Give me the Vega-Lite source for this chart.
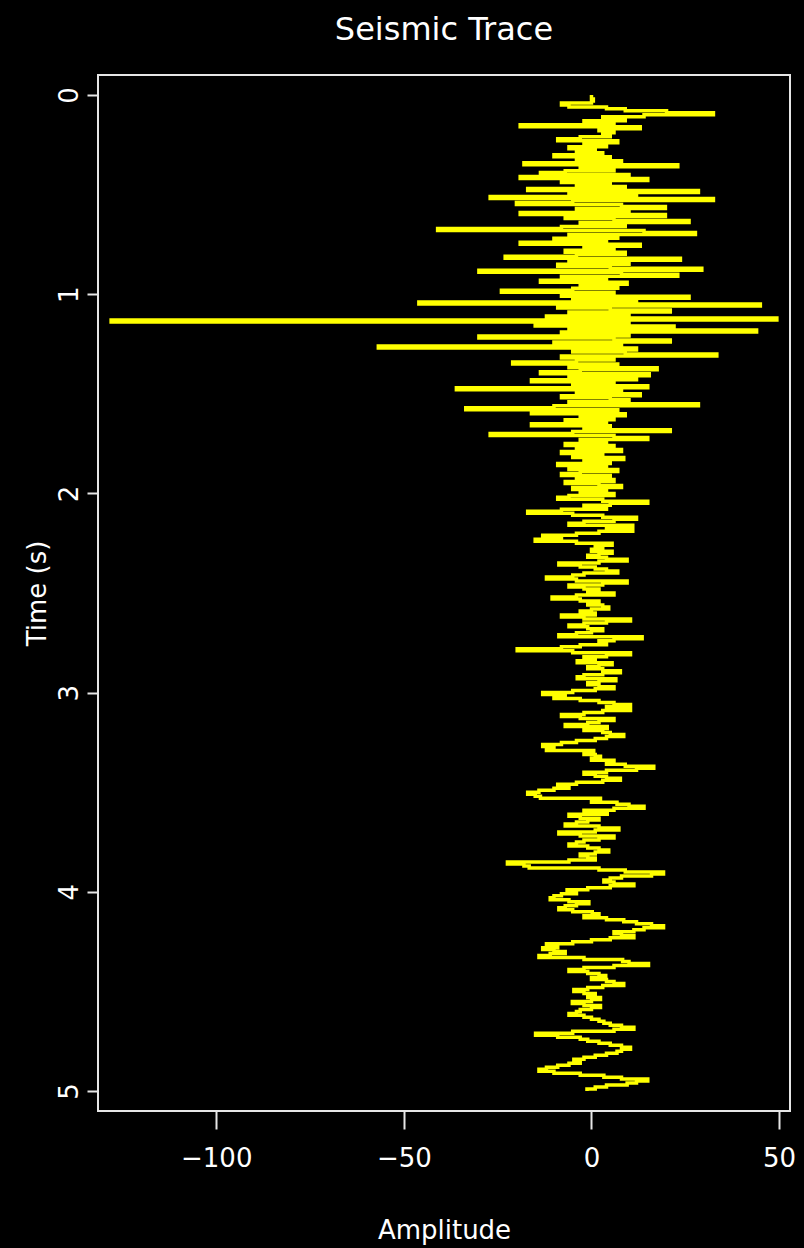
{
  "$schema": "https://vega.github.io/schema/vega-lite/v6.json",
  "width": 692,
  "height": 1036,
  "autosize": {"type": "none"},
  "padding": {"left": 98, "top": 75, "right": 14, "bottom": 137},
  "background": "#000000",
  "title": {"text": "Seismic Trace", "anchor": "middle", "frame": "group", "font": "DejaVu Sans", "fontSize": 32, "fontWeight": "normal", "color": "#ffffff", "baseline": "alphabetic", "offset": 3},
  "config": {
    "view": {"stroke": "#e6e6e6", "strokeWidth": 2, "fill": "#000000"},
    "axis": {"grid": false, "domain": false, "tickColor": "#e6e6e6", "tickWidth": 2, "labelColor": "#ffffff", "titleColor": "#ffffff", "labelFont": "DejaVu Sans", "titleFont": "DejaVu Sans", "labelFontSize": 26, "titleFontSize": 26, "titleFontWeight": "normal", "labelFlush": false, "labelOverlap": false}
  },
  "data": {"values": [
{"t":0.00,"a":0},{"t":0.01,"a":0},{"t":0.02,"a":0},{"t":0.03,"a":0.5},{"t":0.04,"a":0},{"t":0.05,"a":-8},{"t":0.06,"a":-6},{"t":0.07,"a":4},{"t":0.08,"a":9},{"t":0.09,"a":20},
{"t":0.10,"a":32.5},{"t":0.11,"a":14},{"t":0.12,"a":3},{"t":0.13,"a":9},{"t":0.14,"a":-2},{"t":0.15,"a":6},{"t":0.16,"a":-19},{"t":0.17,"a":13},{"t":0.18,"a":2},{"t":0.19,"a":6},
{"t":0.20,"a":3},{"t":0.21,"a":5},{"t":0.22,"a":-3},{"t":0.23,"a":-9},{"t":0.24,"a":7},{"t":0.25,"a":-2},{"t":0.26,"a":4},{"t":0.27,"a":-6},{"t":0.28,"a":1},{"t":0.29,"a":-4},
{"t":0.30,"a":3},{"t":0.31,"a":-10},{"t":0.32,"a":5},{"t":0.33,"a":-4},{"t":0.34,"a":8},{"t":0.35,"a":-18},{"t":0.36,"a":23},{"t":0.37,"a":-3},{"t":0.38,"a":6},{"t":0.39,"a":-7},
{"t":0.40,"a":-13.6},{"t":0.41,"a":10},{"t":0.42,"a":-19},{"t":0.43,"a":15},{"t":0.44,"a":-8},{"t":0.45,"a":5},{"t":0.46,"a":-4},{"t":0.47,"a":9},{"t":0.48,"a":-17},{"t":0.49,"a":28.5},
{"t":0.50,"a":-6},{"t":0.51,"a":12},{"t":0.52,"a":-27},{"t":0.53,"a":32.5},{"t":0.54,"a":-5},{"t":0.55,"a":-20},{"t":0.56,"a":8},{"t":0.57,"a":19.7},{"t":0.58,"a":-4},{"t":0.59,"a":10},
{"t":0.60,"a":-19},{"t":0.61,"a":19.7},{"t":0.62,"a":-7},{"t":0.63,"a":6},{"t":0.64,"a":26},{"t":0.65,"a":-3},{"t":0.66,"a":9},{"t":0.67,"a":-8},{"t":0.68,"a":-41},{"t":0.69,"a":14},
{"t":0.70,"a":27.7},{"t":0.71,"a":-6},{"t":0.72,"a":7},{"t":0.73,"a":-10},{"t":0.74,"a":4},{"t":0.75,"a":-19},{"t":0.76,"a":13},{"t":0.77,"a":-2},{"t":0.78,"a":6},{"t":0.79,"a":-7},
{"t":0.80,"a":9},{"t":0.81,"a":-4},{"t":0.82,"a":-23},{"t":0.83,"a":23.7},{"t":0.84,"a":-6},{"t":0.85,"a":10},{"t":0.86,"a":-9},{"t":0.87,"a":5},{"t":0.88,"a":29.4},{"t":0.89,"a":-30},
{"t":0.90,"a":8},{"t":0.91,"a":23},{"t":0.92,"a":-8},{"t":0.93,"a":4},{"t":0.94,"a":-13.6},{"t":0.95,"a":9.5},{"t":0.96,"a":-3},{"t":0.97,"a":7},{"t":0.98,"a":-5},{"t":0.99,"a":-24},
{"t":1.00,"a":6},{"t":1.01,"a":-8},{"t":1.02,"a":26},{"t":1.03,"a":-5},{"t":1.04,"a":12},{"t":1.05,"a":-46},{"t":1.06,"a":45},{"t":1.07,"a":-9},{"t":1.08,"a":5},{"t":1.09,"a":21},
{"t":1.10,"a":-6},{"t":1.11,"a":10},{"t":1.12,"a":-12},{"t":1.13,"a":49.4},{"t":1.14,"a":-128},{"t":1.15,"a":10},{"t":1.16,"a":-15},{"t":1.17,"a":22},{"t":1.18,"a":-6},{"t":1.19,"a":44},
{"t":1.20,"a":-8},{"t":1.21,"a":10},{"t":1.22,"a":-30},{"t":1.23,"a":6},{"t":1.24,"a":21},{"t":1.25,"a":-10},{"t":1.26,"a":8},{"t":1.27,"a":-56.8},{"t":1.28,"a":12},{"t":1.29,"a":-5},
{"t":1.30,"a":9},{"t":1.31,"a":33.4},{"t":1.32,"a":-8},{"t":1.33,"a":6},{"t":1.34,"a":-4},{"t":1.35,"a":-21},{"t":1.36,"a":7},{"t":1.37,"a":-6},{"t":1.38,"a":17.5},{"t":1.39,"a":-3},
{"t":1.40,"a":-13.6},{"t":1.41,"a":15.4},{"t":1.42,"a":-6},{"t":1.43,"a":12},{"t":1.44,"a":-16},{"t":1.45,"a":6},{"t":1.46,"a":-5},{"t":1.47,"a":15},{"t":1.48,"a":-36},{"t":1.49,"a":8},
{"t":1.50,"a":-4},{"t":1.51,"a":13},{"t":1.52,"a":-8},{"t":1.53,"a":5},{"t":1.54,"a":10},{"t":1.55,"a":-6},{"t":1.56,"a":28.5},{"t":1.57,"a":-10},{"t":1.58,"a":-33.5},{"t":1.59,"a":7},
{"t":1.60,"a":-16},{"t":1.61,"a":9},{"t":1.62,"a":-3},{"t":1.63,"a":6},{"t":1.64,"a":-7},{"t":1.65,"a":4},{"t":1.66,"a":-16},{"t":1.67,"a":5},{"t":1.68,"a":-2},{"t":1.69,"a":21},
{"t":1.70,"a":-5},{"t":1.71,"a":-27},{"t":1.72,"a":6},{"t":1.73,"a":15},{"t":1.74,"a":-3},{"t":1.75,"a":4},{"t":1.76,"a":-7},{"t":1.77,"a":6},{"t":1.78,"a":-4},{"t":1.79,"a":8},
{"t":1.80,"a":-8},{"t":1.81,"a":3},{"t":1.82,"a":-5},{"t":1.83,"a":8.6},{"t":1.84,"a":-2},{"t":1.85,"a":5},{"t":1.86,"a":-9},{"t":1.87,"a":4},{"t":1.88,"a":-6},{"t":1.89,"a":7},
{"t":1.90,"a":-3},{"t":1.91,"a":-8},{"t":1.92,"a":5},{"t":1.93,"a":-4},{"t":1.94,"a":6},{"t":1.95,"a":-7},{"t":1.96,"a":2},{"t":1.97,"a":8},{"t":1.98,"a":-5},{"t":1.99,"a":4},
{"t":2.00,"a":-3},{"t":2.01,"a":6},{"t":2.02,"a":-6},{"t":2.03,"a":-9},{"t":2.04,"a":3},{"t":2.05,"a":15},{"t":2.06,"a":5},{"t":2.07,"a":-2},{"t":2.08,"a":4},{"t":2.09,"a":-8},
{"t":2.10,"a":-17},{"t":2.11,"a":-5},{"t":2.12,"a":3},{"t":2.13,"a":12},{"t":2.14,"a":6},{"t":2.15,"a":-2},{"t":2.16,"a":-6},{"t":2.17,"a":11},{"t":2.18,"a":4},{"t":2.19,"a":11},
{"t":2.20,"a":2},{"t":2.21,"a":-4},{"t":2.22,"a":-13},{"t":2.23,"a":-8},{"t":2.24,"a":-15},{"t":2.25,"a":-4},{"t":2.26,"a":5.5},{"t":2.27,"a":1},{"t":2.28,"a":3},{"t":2.29,"a":0},
{"t":2.30,"a":5.5},{"t":2.31,"a":2},{"t":2.32,"a":-1},{"t":2.33,"a":4},{"t":2.34,"a":9.5},{"t":2.35,"a":2},{"t":2.36,"a":-8.7},{"t":2.37,"a":-3},{"t":2.38,"a":1},{"t":2.39,"a":4},
{"t":2.40,"a":7},{"t":2.41,"a":-2},{"t":2.42,"a":-5},{"t":2.43,"a":-12},{"t":2.44,"a":-4},{"t":2.45,"a":9.5},{"t":2.46,"a":3},{"t":2.47,"a":-6},{"t":2.48,"a":-2},{"t":2.49,"a":2},
{"t":2.50,"a":-1},{"t":2.51,"a":6},{"t":2.52,"a":-4},{"t":2.53,"a":-10.5},{"t":2.54,"a":-3},{"t":2.55,"a":2},{"t":2.56,"a":-1},{"t":2.57,"a":3},{"t":2.58,"a":4.6},{"t":2.59,"a":0},
{"t":2.60,"a":-3},{"t":2.61,"a":1},{"t":2.62,"a":-8},{"t":2.63,"a":-2},{"t":2.64,"a":10.4},{"t":2.65,"a":4},{"t":2.66,"a":-2},{"t":2.67,"a":-6},{"t":2.68,"a":-1},{"t":2.69,"a":3},
{"t":2.70,"a":0},{"t":2.71,"a":-4},{"t":2.72,"a":-8.7},{"t":2.73,"a":13.5},{"t":2.74,"a":6},{"t":2.75,"a":2},{"t":2.76,"a":4},{"t":2.77,"a":-3},{"t":2.78,"a":-8},{"t":2.79,"a":-19.8},
{"t":2.80,"a":-5},{"t":2.81,"a":10.4},{"t":2.82,"a":4},{"t":2.83,"a":-2},{"t":2.84,"a":1},{"t":2.85,"a":-3.8},{"t":2.86,"a":5.5},{"t":2.87,"a":2},{"t":2.88,"a":-1},{"t":2.89,"a":3},
{"t":2.90,"a":7.7},{"t":2.91,"a":3},{"t":2.92,"a":-2},{"t":2.93,"a":-3.8},{"t":2.94,"a":6.5},{"t":2.95,"a":2},{"t":2.96,"a":-1},{"t":2.97,"a":2},{"t":2.98,"a":6},{"t":2.99,"a":1},
{"t":3.00,"a":-5},{"t":3.01,"a":-13},{"t":3.02,"a":-7},{"t":3.03,"a":-10},{"t":3.04,"a":-3},{"t":3.05,"a":2},{"t":3.06,"a":6},{"t":3.07,"a":10.4},{"t":3.08,"a":4},{"t":3.09,"a":10.4},
{"t":3.10,"a":3},{"t":3.11,"a":-2},{"t":3.12,"a":-8},{"t":3.13,"a":-3},{"t":3.14,"a":6},{"t":3.15,"a":2},{"t":3.16,"a":-1},{"t":3.17,"a":-7},{"t":3.18,"a":4.2},{"t":3.19,"a":-2},
{"t":3.20,"a":3},{"t":3.21,"a":5},{"t":3.22,"a":8.6},{"t":3.23,"a":4},{"t":3.24,"a":1},{"t":3.25,"a":-4},{"t":3.26,"a":-8},{"t":3.27,"a":-13},{"t":3.28,"a":-10},{"t":3.29,"a":-12},
{"t":3.30,"a":0.6},{"t":3.31,"a":-2},{"t":3.32,"a":1},{"t":3.33,"a":2.4},{"t":3.34,"a":0},{"t":3.35,"a":6},{"t":3.36,"a":4},{"t":3.37,"a":9},{"t":3.38,"a":16.6},{"t":3.39,"a":12},
{"t":3.40,"a":4},{"t":3.41,"a":-2},{"t":3.42,"a":1},{"t":3.43,"a":4},{"t":3.44,"a":7.7},{"t":3.45,"a":3},{"t":3.46,"a":-4},{"t":3.47,"a":-9},{"t":3.48,"a":-6},{"t":3.49,"a":-10},
{"t":3.50,"a":-14},{"t":3.51,"a":-17},{"t":3.52,"a":-15},{"t":3.53,"a":-13.6},{"t":3.54,"a":2.4},{"t":3.55,"a":0},{"t":3.56,"a":6.8},{"t":3.57,"a":10},{"t":3.58,"a":14},{"t":3.59,"a":6},
{"t":3.60,"a":-2},{"t":3.61,"a":4.2},{"t":3.62,"a":-6},{"t":3.63,"a":-3},{"t":3.64,"a":2},{"t":3.65,"a":-1},{"t":3.66,"a":-4},{"t":3.67,"a":-7},{"t":3.68,"a":2},{"t":3.69,"a":7.3},
{"t":3.70,"a":1},{"t":3.71,"a":-8.7},{"t":3.72,"a":-3},{"t":3.73,"a":6},{"t":3.74,"a":2},{"t":3.75,"a":-2},{"t":3.76,"a":-4},{"t":3.77,"a":-6},{"t":3.78,"a":-1},{"t":3.79,"a":2},
{"t":3.80,"a":4.6},{"t":3.81,"a":1},{"t":3.82,"a":-3},{"t":3.83,"a":-1},{"t":3.84,"a":1},{"t":3.85,"a":-6},{"t":3.86,"a":-22.4},{"t":3.87,"a":-18},{"t":3.88,"a":-16.6},{"t":3.89,"a":2},
{"t":3.90,"a":9},{"t":3.91,"a":19.2},{"t":3.92,"a":16},{"t":3.93,"a":8},{"t":3.94,"a":5},{"t":3.95,"a":3.3},{"t":3.96,"a":6},{"t":3.97,"a":11.3},{"t":3.98,"a":5},{"t":3.99,"a":-1},
{"t":4.00,"a":-6.5},{"t":4.01,"a":-4},{"t":4.02,"a":-8},{"t":4.03,"a":-10},{"t":4.04,"a":-11},{"t":4.05,"a":-6},{"t":4.06,"a":-0.7},{"t":4.07,"a":-4},{"t":4.08,"a":-7},{"t":4.09,"a":-8.7},
{"t":4.10,"a":-5},{"t":4.11,"a":0.2},{"t":4.12,"a":2},{"t":4.13,"a":-2},{"t":4.14,"a":4},{"t":4.15,"a":8.6},{"t":4.16,"a":12},{"t":4.17,"a":16},{"t":4.18,"a":19.2},{"t":4.19,"a":14},
{"t":4.20,"a":11.3},{"t":4.21,"a":6},{"t":4.22,"a":8},{"t":4.23,"a":11.3},{"t":4.24,"a":5},{"t":4.25,"a":0},{"t":4.26,"a":-5},{"t":4.27,"a":-12},{"t":4.28,"a":-9},{"t":4.29,"a":-13},
{"t":4.30,"a":-10},{"t":4.31,"a":-7},{"t":4.32,"a":-11},{"t":4.33,"a":-14},{"t":4.34,"a":-2},{"t":4.35,"a":8.3},{"t":4.36,"a":10},{"t":4.37,"a":15.2},{"t":4.38,"a":6},{"t":4.39,"a":-2},
{"t":4.40,"a":-6},{"t":4.41,"a":-1},{"t":4.42,"a":2},{"t":4.43,"a":3.8},{"t":4.44,"a":0},{"t":4.45,"a":4},{"t":4.46,"a":6},{"t":4.47,"a":8.6},{"t":4.48,"a":3},{"t":4.49,"a":-1},
{"t":4.50,"a":-4.7},{"t":4.51,"a":-2},{"t":4.52,"a":1},{"t":4.53,"a":-1},{"t":4.54,"a":2.4},{"t":4.55,"a":0},{"t":4.56,"a":-5.1},{"t":4.57,"a":-2},{"t":4.58,"a":2.4},{"t":4.59,"a":0},
{"t":4.60,"a":-3},{"t":4.61,"a":-4},{"t":4.62,"a":-6},{"t":4.63,"a":-2},{"t":4.64,"a":0},{"t":4.65,"a":2},{"t":4.66,"a":3.3},{"t":4.67,"a":5},{"t":4.68,"a":8},{"t":4.69,"a":11.3},
{"t":4.70,"a":6},{"t":4.71,"a":-5},{"t":4.72,"a":-14.9},{"t":4.73,"a":-9},{"t":4.74,"a":-3},{"t":4.75,"a":-1},{"t":4.76,"a":2},{"t":4.77,"a":5},{"t":4.78,"a":8},{"t":4.79,"a":10.4},
{"t":4.80,"a":8},{"t":4.81,"a":6.8},{"t":4.82,"a":4},{"t":4.83,"a":1},{"t":4.84,"a":-2},{"t":4.85,"a":-4.7},{"t":4.86,"a":-3},{"t":4.87,"a":-6},{"t":4.88,"a":-9},{"t":4.89,"a":-12},
{"t":4.90,"a":-14},{"t":4.91,"a":-10},{"t":4.92,"a":-3},{"t":4.93,"a":3.3},{"t":4.94,"a":8},{"t":4.95,"a":15},{"t":4.96,"a":12},{"t":4.97,"a":9.5},{"t":4.98,"a":4},{"t":4.99,"a":1},
{"t":5.00,"a":-1.2}
  ]},
  "mark": {"type": "line", "color": "#ffff00", "strokeWidth": 3.5, "interpolate": "step-after", "strokeJoin": "miter", "strokeCap": "butt"},
  "encoding": {
    "x": {"field": "a", "type": "quantitative",
      "scale": {"domain": [-131.5, 52.9], "nice": false, "zero": false},
      "axis": {"title": "Amplitude", "values": [-100, -50, 0, 50], "tickSize": 18, "labelPadding": 16, "titleY": 127, "titleBaseline": "alphabetic", "labelBaseline": "top"}},
    "y": {"field": "t", "type": "quantitative",
      "scale": {"domain": [-0.1, 5.1], "nice": false, "zero": false, "reverse": true},
      "axis": {"title": "Time (s)", "values": [0, 1, 2, 3, 4, 5], "tickSize": 11, "labelPadding": 5, "labelAngle": -90, "labelAlign": "center", "labelBaseline": "bottom", "titleX": -53, "titleY": 518, "titleAngle": -90, "titleBaseline": "alphabetic", "titleAlign": "center"}},
    "order": {"field": "t", "type": "quantitative"}
  }
}
